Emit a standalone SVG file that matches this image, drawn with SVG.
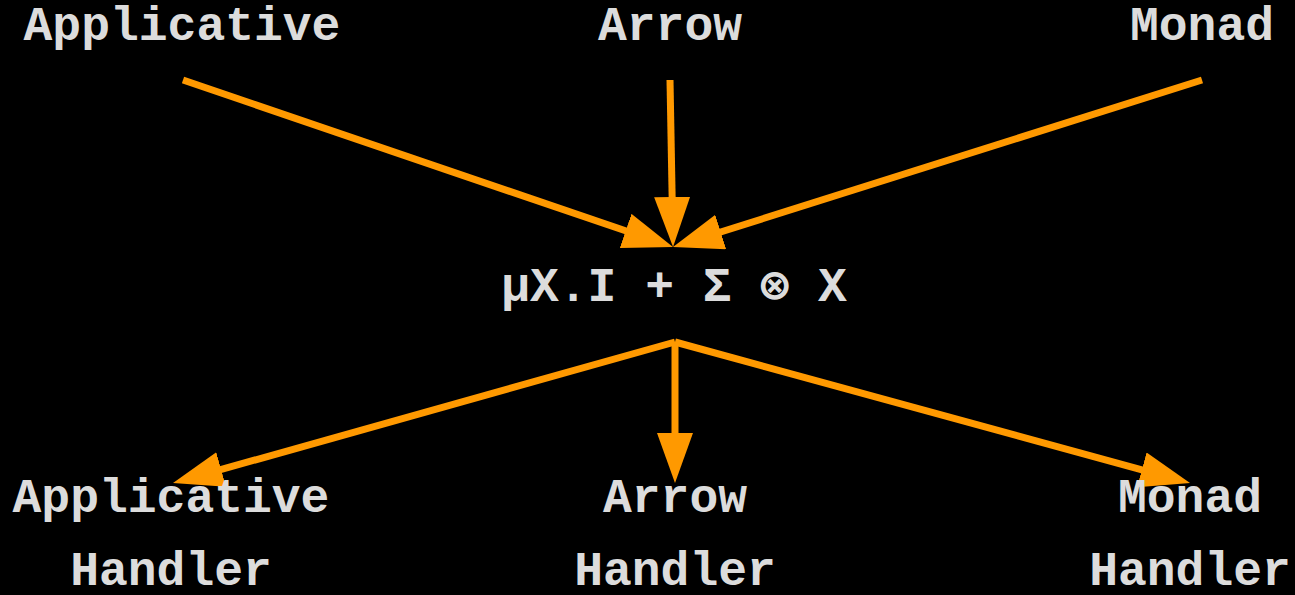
<svg xmlns="http://www.w3.org/2000/svg" width="1295" height="595" viewBox="0 0 1295 595">
<style>
text{font-family:"Liberation Mono","Courier New",monospace;font-weight:bold;font-size:48px;fill:#dcdcdc;text-anchor:middle}
.c line{stroke:#ff9900;stroke-width:7;marker-end:url(#ah)}
</style>
<defs>
<marker id="ah" markerUnits="userSpaceOnUse" markerWidth="50" markerHeight="36" viewBox="0 0 50 36" refX="20" refY="18" orient="auto">
<path d="M0,0 L50,18 L0,36 z" fill="#ff9900"/>
</marker>
</defs>
<rect width="1295" height="595" fill="#000"/>
<g class="c" id="connectors">
<line x1="183" y1="80" x2="644.6" y2="237.3"/>
<line x1="670" y1="80" x2="672.5" y2="217"/>
<line x1="1202" y1="80" x2="701.6" y2="238"/>
<line x1="675" y1="342" x2="201.9" y2="474.9"/>
<line x1="675" y1="342" x2="675" y2="453"/>
<line x1="675" y1="342" x2="1161.1" y2="475.1"/>
</g>
<g id="applicative"><text x="182" y="40">Applicative</text></g>
<g id="arrow"><text x="670" y="40">Arrow</text></g>
<g id="monad"><text x="1202" y="40">Monad</text></g>
<g id="center"><text x="674" y="301">μX.I + Σ ⊗ X</text></g>
<g id="applicative-handler"><text x="171" y="512">Applicative</text><text x="171" y="585">Handler</text></g>
<g id="arrow-handler"><text x="675" y="512">Arrow</text><text x="675" y="585">Handler</text></g>
<g id="monad-handler"><text x="1190" y="512">Monad</text><text x="1190" y="585">Handler</text></g>
</svg>
